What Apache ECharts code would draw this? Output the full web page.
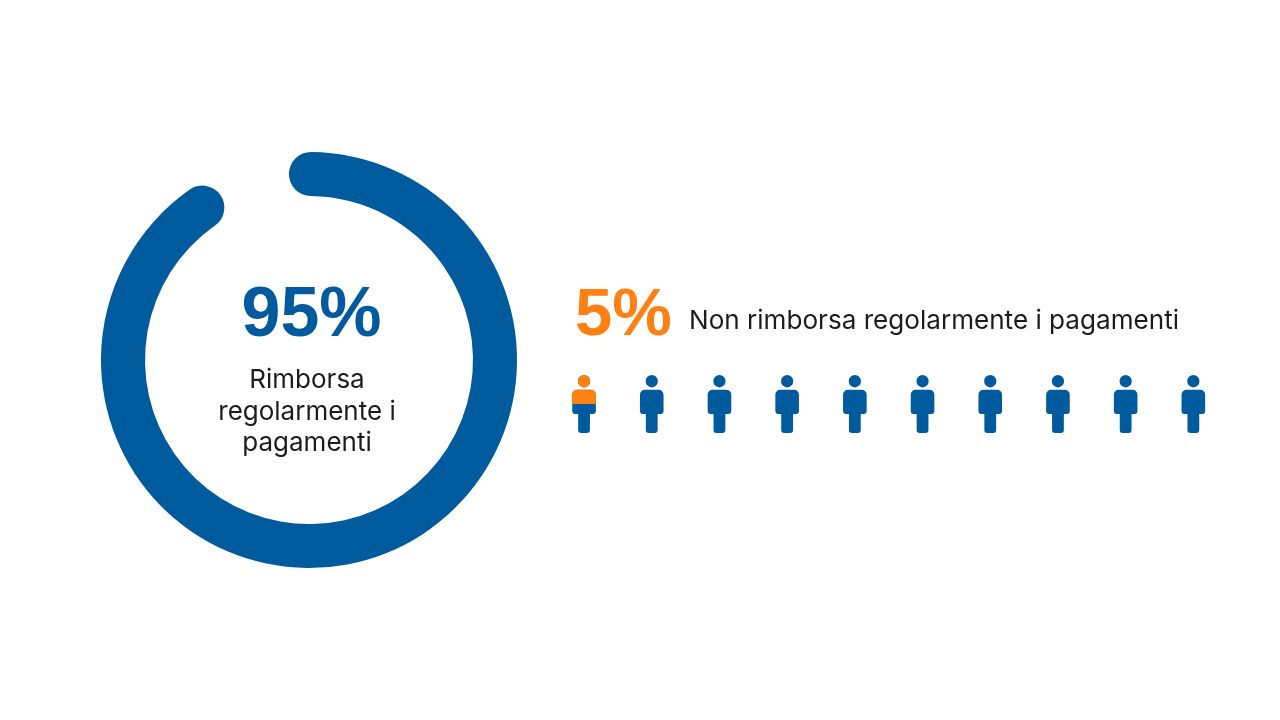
<!DOCTYPE html>
<html><head><meta charset="utf-8">
<style>html,body{margin:0;padding:0;background:#fff}#c{width:1280px;height:720px}</style>
<script src="https://cdn.jsdelivr.net/npm/echarts@6/dist/echarts.min.js"></script>
</head><body><div id="c"></div>
<script>
const payingShare = 95;
const latePayingShare = 5;
const payingLabel = 'Rimborsa\nregolarmente i\npagamenti';
const lateLabel = 'Non rimborsa regolarmente i pagamenti';
const people = ['1','2','3','4','5','6','7','8','9','10'];
const personFull = [1,1,1,1,1,1,1,1,1,1];
const personOrange = [0.5];
const blue = '#005B9E', orange = '#FF8113', ink = '#1c1c1c';
const personPath = 'path://M12 57.8a6.2 6.2 0 1 0 0-12.4a6.2 6.2 0 1 0 0 12.4ZM5 43H19A5 5 0 0 0 24 38V22A3 3 0 0 0 21 19H18V3A3 3 0 0 0 15 0H9A3 3 0 0 0 6 3V19H3A3 3 0 0 0 0 22V38A5 5 0 0 0 5 43Z';
const font = 'Inter';
const numberFont = '"Liberation Sans"';
const chart = echarts.init(document.getElementById('c'), null, {renderer:'canvas'});
chart.setOption({
  backgroundColor:'#fff',
  animation:false,
  title:[
    {text:payingShare+'%',left:306.5,top:312,textAlign:'center',textVerticalAlign:'middle',textStyle:{fontFamily:numberFont,fontSize:70,fontWeight:700,color:blue}},
    {text:payingLabel,left:302,top:407,textAlign:'center',textVerticalAlign:'middle',textStyle:{fontFamily:font,fontSize:26,fontWeight:400,color:ink,lineHeight:31.5}},
    {text:latePayingShare+'%',left:570,top:312,textVerticalAlign:'middle',textStyle:{fontFamily:numberFont,fontSize:67,fontWeight:700,color:orange}},
    {text:lateLabel,left:684,top:316,textVerticalAlign:'middle',textStyle:{fontFamily:font,fontSize:26.1,fontWeight:400,color:ink}}
  ],
  grid:{left:550.2,top:375,width:677,height:58},
  xAxis:{type:'category',data:people,show:false},
  yAxis:{type:'value',min:0,max:1,inverse:true,show:false},
  series:[
    {type:'gauge',center:[309,360],radius:208,startAngle:89.4,endAngle:-252.1,min:0,max:100,
      pointer:{show:false},axisLine:{show:false},axisTick:{show:false},splitLine:{show:false},axisLabel:{show:false},
      title:{show:false},detail:{show:false},
      progress:{show:true,width:44,roundCap:true,itemStyle:{color:blue}},
      data:[{value:payingShare}]},
    {type:'pictorialBar',data:personFull,symbol:personPath,symbolSize:[23.6,'100%'],symbolBoundingData:1,symbolPosition:'start',barGap:'-100%',itemStyle:{color:blue},z:2},
    {type:'pictorialBar',data:personOrange,symbol:personPath,symbolSize:[23.6,58],symbolBoundingData:1,symbolClip:true,symbolPosition:'start',barGap:'-100%',itemStyle:{color:orange},z:3}
  ]
});
</script></body></html>
